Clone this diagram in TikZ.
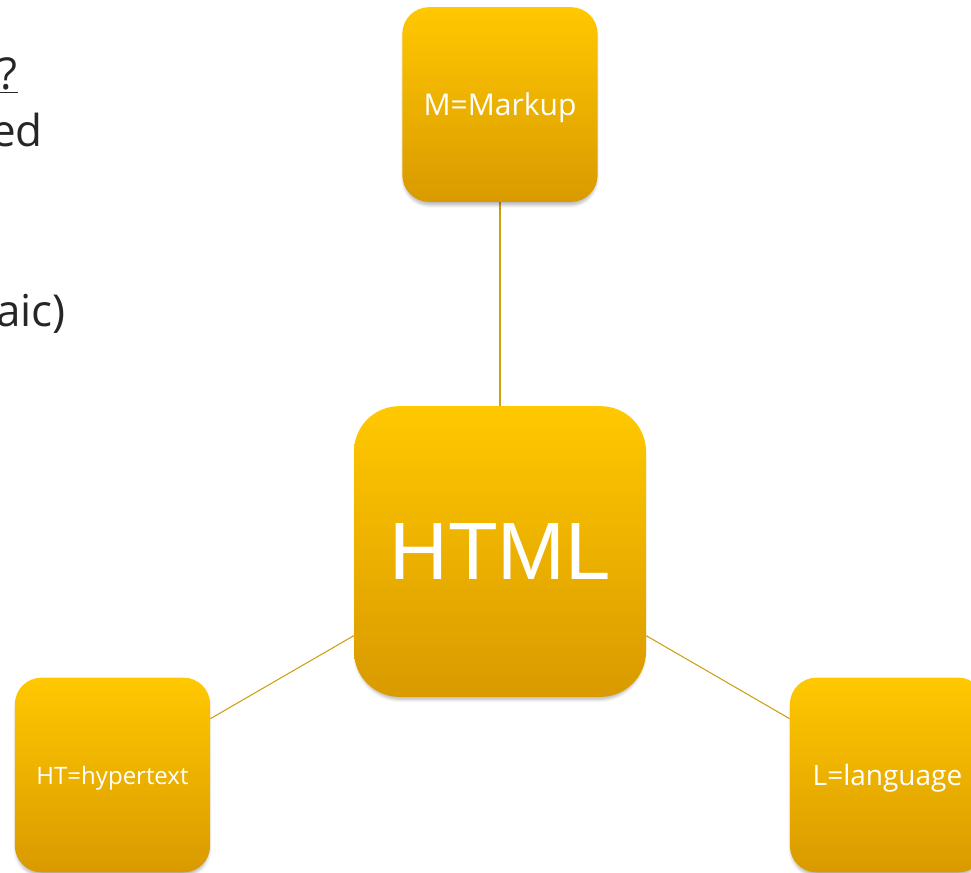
\documentclass[tikz,border=0pt]{standalone}
\usepackage{fontspec}
\setmainfont{Open Sans}
\newfontfamily\htmlfont{Liberation Sans}
\usetikzlibrary{shadows.blur,backgrounds}
\definecolor{boxtop}{RGB}{255,200,0}
\definecolor{boxbot}{RGB}{217,154,0}
\definecolor{linkcol}{RGB}{205,160,20}
\definecolor{txtcol}{RGB}{38,38,38}
\tikzset{
  boxnode/.style={rectangle, rounded corners=20pt, top color=boxtop, bottom color=boxbot,
    draw=none, text=white, align=center, inner sep=0pt,
    blur shadow={shadow xshift=0pt, shadow yshift=-3.5pt, shadow scale=0.985, shadow blur radius=2.5pt, shadow blur steps=6, shadow opacity=30}},
  smallbox/.style={boxnode, minimum width=146.5pt, minimum height=146pt, text depth=0pt},
  bigbox/.style={boxnode, rounded corners=34pt, minimum width=219pt, minimum height=218pt},
  link/.style={draw=linkcol, line width=0.8pt},
  frag/.style={text=txtcol, inner sep=0pt, font=\fontsize{33}{40}\selectfont}
}
\begin{document}
\begin{tikzpicture}[x=0.75pt,y=-0.75pt]
\useasboundingbox (0,0) rectangle (971,873);
\clip (0,0) rectangle (971,873);
% left text fragments
\node[frag, anchor=base east] (q) at (18,90) {\underline{?}};
\node[frag, anchor=base east] (ed) at (43,147) {ed};
\node[frag, anchor=base east] (aic) at (66,327) {aic)};
% boxes
\node[smallbox, font=\fontsize{22.5}{27}\selectfont] (M) at (500,104.5) {M=Markup};
\node[bigbox, font=\htmlfont\fontsize{61}{72}\selectfont] (H) at (500,551.5) {HTML};
\node[smallbox, font=\fontsize{18}{22}\selectfont] (HT) at (112.5,775) {HT=hypertext};
\node[smallbox, font=\fontsize{21}{26}\selectfont] (L) at (887.5,775) {L=language};
\begin{scope}[on background layer]
\draw[link] (M) -- (H);
\draw[link] (H) -- (HT);
\draw[link] (H) -- (L);
\end{scope}
\end{tikzpicture}
\end{document}
